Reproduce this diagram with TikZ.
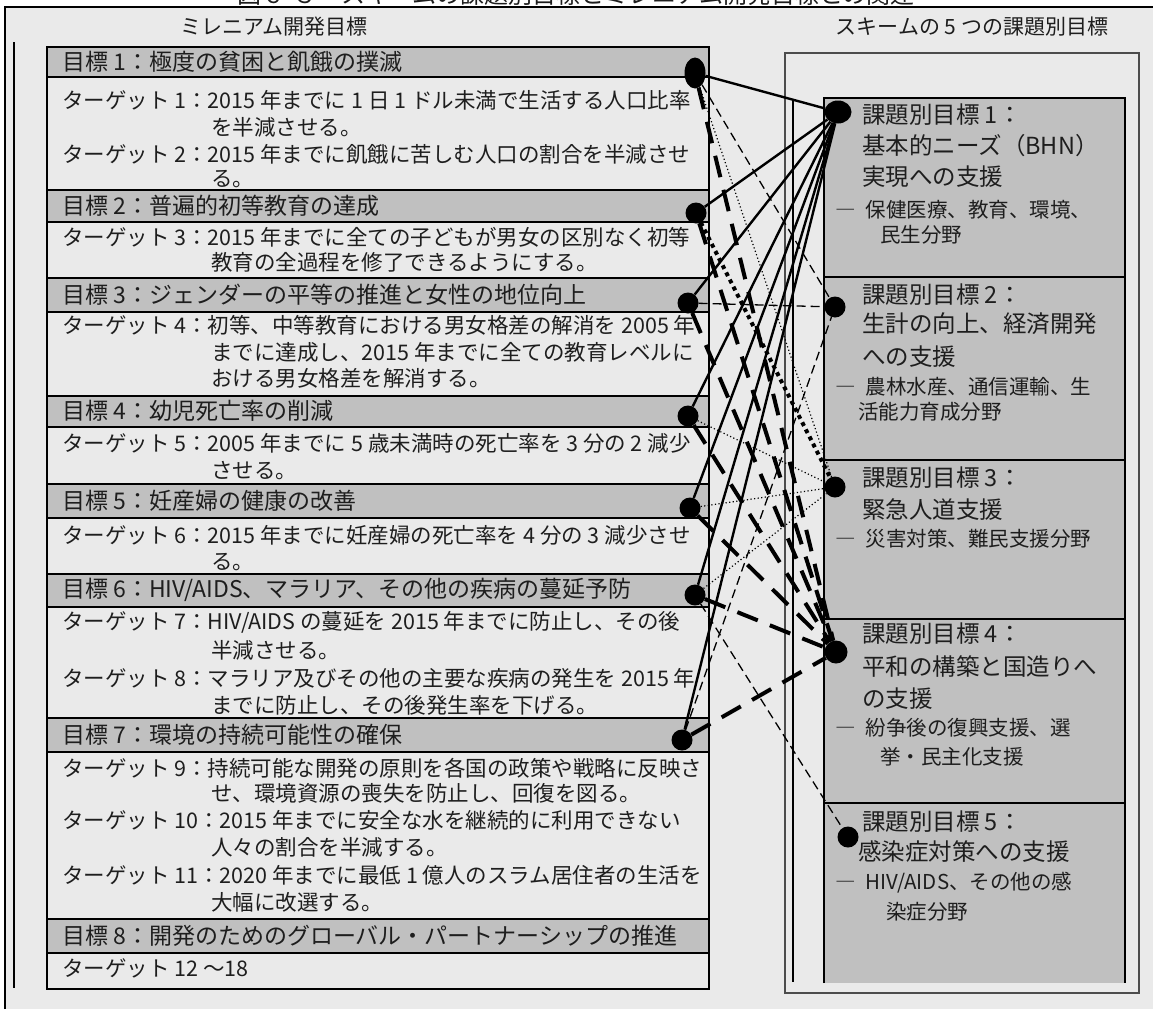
\documentclass[tikz,border=0pt]{standalone}
\usepackage{fontspec}
\setmainfont{Noto Sans CJK JP}
\usetikzlibrary{shapes.geometric}
\definecolor{bgc}{HTML}{EAEAEA}
\definecolor{hdc}{HTML}{C0C0C0}
\definecolor{txt}{HTML}{1E1E1E}
\pgfdeclarelayer{bglayer}
\pgfdeclarelayer{linelayer}
\pgfsetlayers{bglayer,linelayer,main}
\begin{document}
\begin{tikzpicture}[x=1pt,y=-1pt,
  hd/.style={anchor=west,inner sep=0pt,text=txt,font=\fontsize{23}{28}\selectfont},
  tg/.style={anchor=west,inner sep=0pt,text=txt,font=\fontsize{21.5}{26}\selectfont},
  rt/.style={anchor=west,inner sep=0pt,text=txt,font=\fontsize{23.5}{28}\selectfont},
  rs/.style={anchor=west,inner sep=0pt,text=txt,font=\fontsize{20.5}{25}\selectfont},
  lbl/.style={inner sep=0pt,text=txt,font=\fontsize{21}{25}\selectfont},
  gdot/.style={fill=black,inner sep=0pt},
  solidln/.style={line width=2.4pt},
  thindash/.style={line width=1.3pt,dash pattern=on 9pt off 5pt},
  thindot/.style={line width=1.2pt,dash pattern=on 1.2pt off 2.4pt},
  heavydot/.style={line width=4pt,dash pattern=on 4pt off 4pt},
  heavydash/.style={line width=4pt,dash pattern=on 22pt off 13pt},
  rowline/.style={draw=black,line width=1.8pt}
]
\useasboundingbox (0,0) rectangle (1153,1009);
\clip (0,0) rectangle (1153,1009);

\begin{pgfonlayer}{bglayer}
\fill[white] (0,0) rectangle (1153,1009);
\fill[bgc] (5,7) rectangle (1153,1009);
\draw[line width=1.5pt] (5,1009) -- (5,7) -- (1153,7);
\draw[line width=2pt] (14,42) -- (14,988);
% left panel rows
\foreach \a/\b in {47/77,190/222,278/312,396/427,484/518,574/607,718/752,919/953}
  \fill[hdc] (47,\a) rectangle (709,\b);
\foreach \y in {77,190,222,278,312,396,427,484,518,574,607,718,752,919,953}
  \draw[rowline] (47,\y) -- (709,\y);
\draw[rowline] (47,47) rectangle (709,989);
% right panel
\draw[line width=1.2pt,black!70] (785,53) rectangle (1139,993);
\draw[line width=1.8pt] (793,100) -- (793,982);
\fill[hdc] (824,98) rectangle (1125,983);
\draw[rowline] (824,983) -- (824,98) -- (1125,98) -- (1125,983);
\foreach \y in {277,460,619,803}
  \draw[rowline] (824,\y) -- (1125,\y);
\end{pgfonlayer}

% title (cut off at the top)
\node[text=txt,font=\fontsize{24}{28}\selectfont] (title) at (576,-6) {図６-３　スキームの課題別目標とミレニアム開発目標との関連};
\node[lbl] (lmdg) at (274,27) {ミレニアム開発目標};
\node[lbl] (lsch) at (972,27) {スキームの 5 つの課題別目標};

% left headers
\node[hd] (h1) at (62,62) {目標 1：極度の貧困と飢餓の撲滅};
\node[hd] (h2) at (62,206) {目標 2：普遍的初等教育の達成};
\node[hd] (h3) at (62,295) {目標 3：ジェンダーの平等の推進と女性の地位向上};
\node[hd] (h4) at (62,411) {目標 4：幼児死亡率の削減};
\node[hd] (h5) at (62,501) {目標 5：妊産婦の健康の改善};
\node[hd] (h6) at (62,590) {目標 6：HIV/AIDS、マラリア、その他の疾病の蔓延予防};
\node[hd] (h7) at (62,735) {目標 7：環境の持続可能性の確保};
\node[hd] (h8) at (62,936) {目標 8：開発のためのグローバル・パートナーシップの推進};

% targets
\node[tg] (t1a) at (62,100) {ターゲット 1：2015 年までに 1 日 1 ドル未満で生活する人口比率};
\node[tg] (t1b) at (211,127) {を半減させる。};
\node[tg] (t2a) at (62,154) {ターゲット 2：2015 年までに飢餓に苦しむ人口の割合を半減させ};
\node[tg] (t2b) at (211,179) {る。};
\node[tg] (t3a) at (62,237) {ターゲット 3：2015 年までに全ての子どもが男女の区別なく初等};
\node[tg] (t3b) at (211,262) {教育の全過程を修了できるようにする。};
\node[tg] (t4a) at (62,325) {ターゲット 4：初等、中等教育における男女格差の解消を 2005 年};
\node[tg] (t4b) at (211,352) {までに達成し、2015 年までに全ての教育レベルに};
\node[tg] (t4c) at (211,378) {おける男女格差を解消する。};
\node[tg] (t5a) at (62,443) {ターゲット 5：2005 年までに 5 歳未満時の死亡率を 3 分の 2 減少};
\node[tg] (t5b) at (211,471) {させる。};
\node[tg] (t6a) at (62,535) {ターゲット 6：2015 年までに妊産婦の死亡率を 4 分の 3 減少させ};
\node[tg] (t6b) at (211,562) {る。};
\node[tg] (t7a) at (62,622) {ターゲット 7：HIV/AIDS の蔓延を 2015 年までに防止し、その後};
\node[tg] (t7b) at (211,650) {半減させる。};
\node[tg] (t8a) at (62,678) {ターゲット 8：マラリア及びその他の主要な疾病の発生を 2015 年};
\node[tg] (t8b) at (211,705) {までに防止し、その後発生率を下げる。};
\node[tg] (t9a) at (62,768) {ターゲット 9：持続可能な開発の原則を各国の政策や戦略に反映さ};
\node[tg] (t9b) at (211,793) {せ、環境資源の喪失を防止し、回復を図る。};
\node[tg] (t10a) at (62,820) {ターゲット 10：2015 年までに安全な水を継続的に利用できない};
\node[tg] (t10b) at (211,847) {人々の割合を半減する。};
\node[tg] (t11a) at (62,875) {ターゲット 11：2020 年までに最低 1 億人のスラム居住者の生活を};
\node[tg] (t11b) at (211,902) {大幅に改選する。};
\node[tg] (t12) at (62,968) {ターゲット 12 ～18};

% right boxes text
\node[rt] (b1a) at (862,115) {課題別目標 1：};
\node[rt] (b1b) at (862,146) {基本的ニーズ（BHN）};
\node[rt] (b1c) at (862,177) {実現への支援};
\node[rs] (b1d) at (835,210) {―\hspace{10pt}保健医療、教育、環境、};
\node[rs] (b1e) at (880,235) {民生分野};
\node[rt] (b2a) at (862,295) {課題別目標 2：};
\node[rt] (b2b) at (862,324) {生計の向上、経済開発};
\node[rt] (b2c) at (862,357) {への支援};
\node[rs] (b2d) at (835,387) {―\hspace{10pt}農林水産、通信運輸、生};
\node[rs] (b2e) at (858,412) {活能力育成分野};
\node[rt] (b3a) at (862,478) {課題別目標 3：};
\node[rt] (b3b) at (862,510) {緊急人道支援};
\node[rs] (b3c) at (835,539) {―\hspace{10pt}災害対策、難民支援分野};
\node[rt] (b4a) at (862,634) {課題別目標 4：};
\node[rt] (b4b) at (862,667) {平和の構築と国造りへ};
\node[rt] (b4c) at (862,699) {の支援};
\node[rs] (b4d) at (835,728) {―\hspace{10pt}紛争後の復興支援、選};
\node[rs] (b4e) at (880,757) {挙・民主化支援};
\node[rt] (b5a) at (862,822) {課題別目標 5：};
\node[rt] (b5b) at (858,852) {感染症対策への支援};
\node[rs] (b5c) at (835,883) {―\hspace{10pt}HIV/AIDS、その他の感};
\node[rs] (b5d) at (886,912) {染症分野};

% dots
\node[gdot,ellipse,minimum width=21pt,minimum height=31pt] (g1) at (695,73) {};
\node[gdot,circle,minimum size=21pt] (g2) at (696,213) {};
\node[gdot,circle,minimum size=21pt] (g3) at (688,303) {};
\node[gdot,circle,minimum size=21pt] (g4) at (688,416) {};
\node[gdot,circle,minimum size=21pt] (g5) at (690,508) {};
\node[gdot,circle,minimum size=21pt] (g6) at (695,595) {};
\node[gdot,circle,minimum size=21pt] (g7) at (682,740) {};
\node[gdot,ellipse,minimum width=27pt,minimum height=23pt] (s1) at (838,112) {};
\node[gdot,circle,minimum size=21pt] (s2) at (835,307) {};
\node[gdot,circle,minimum size=21pt] (s3) at (835,487) {};
\node[gdot,circle,minimum size=23pt] (s4) at (836,652) {};
\node[gdot,circle,minimum size=21pt] (s5) at (848,837) {};

% connectors
\begin{pgfonlayer}{linelayer}
\foreach \i in {1,...,7} \draw[solidln] (s1) -- (g\i);
\foreach \i in {1,...,7} \draw[heavydash] (g\i) -- (s4);
\draw[thindash] (g1) -- (s2);
\draw[thindash] (g3) -- (s2);
\draw[thindash] (g7) -- (s2);
\draw[thindash] (g6) -- (s5);
\draw[thindot] (g1) -- (s3);
\draw[thindot] (g4) -- (s3);
\draw[thindot] (g5) -- (s3);
\draw[thindot] (g6) -- (s3);
\draw[heavydot] (g2) -- (s3);
\end{pgfonlayer}
\end{tikzpicture}
\end{document}
